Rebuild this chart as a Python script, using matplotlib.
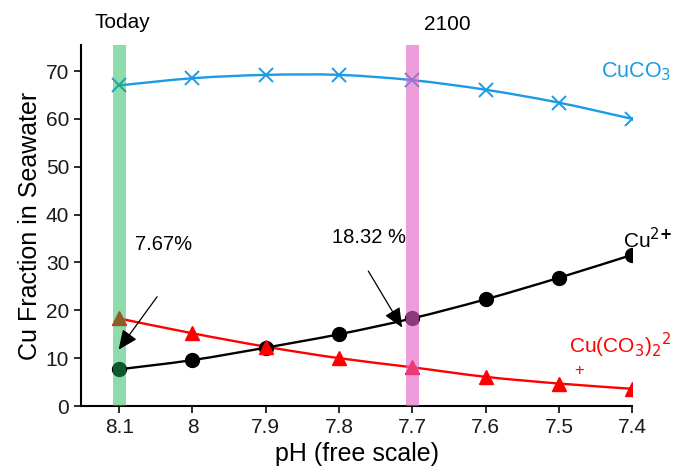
import matplotlib.pyplot as plt
import numpy as np
from matplotlib.path import Path
from matplotlib.patches import PathPatch

plt.rcParams['font.family'] = ['Liberation Sans', 'DejaVu Sans']

# data
ph = [8.1, 8.0, 7.9, 7.8, 7.7, 7.6, 7.5, 7.4]
cuco3 = [67.0, 68.5, 69.2, 69.2, 68.1, 66.1, 63.4, 60.0]
cu2 = [7.67, 9.6, 12.2, 15.0, 18.32, 22.3, 26.8, 31.6]
cuco3_2 = [18.3, 15.2, 12.4, 10.0, 8.1, 6.1, 4.7, 3.6]
x_ticks = [8.1, 8.0, 7.9, 7.8, 7.7, 7.6, 7.5, 7.4]
x_ticklabels = ['8.1', '8', '7.9', '7.8', '7.7', '7.6', '7.5', '7.4']

blue = '#1a9be3'
red = '#ff0000'


def smooth_path(xs, ys):
    # catmull-rom style bezier through the points (like a smoothed spreadsheet line)
    pts = np.column_stack([xs, ys])
    verts = [pts[0]]
    codes = [Path.MOVETO]
    n = len(pts)
    for i in range(n - 1):
        p0 = pts[i - 1] if i > 0 else pts[i]
        p1 = pts[i]
        p2 = pts[i + 1]
        p3 = pts[i + 2] if i + 2 < n else pts[i + 1]
        c1 = p1 + (p2 - p0) / 6
        c2 = p2 - (p3 - p1) / 6
        verts += [c1, c2, p2]
        codes += [Path.CURVE4] * 3
    return Path(verts, codes)


fig = plt.figure(figsize=(6.73, 4.76), dpi=100)
ax = fig.add_axes([0.1204, 0.147, 0.819, 0.758])

for ys, col in [(cuco3, blue), (cu2, 'black'), (cuco3_2, red)]:
    ax.add_patch(PathPatch(smooth_path(ph, ys), facecolor='none', edgecolor=col, lw=1.7, zorder=2))

ax.plot(ph, cuco3, ls='none', marker='x', ms=9.5, mew=1.4, color=blue, zorder=3)
ax.plot(ph, cu2, ls='none', marker='o', ms=10, color='black', zorder=3)
ax.plot(ph, cuco3_2, ls='none', marker='^', ms=10, color=red, zorder=3)

# highlight bands (drawn on top, semi-transparent)
ax.axvspan(8.1 - 0.009, 8.1 + 0.009, color='#1ab854', alpha=0.49, lw=0, zorder=4)
ax.axvspan(7.7 - 0.009, 7.7 + 0.009, color='#e260c4', alpha=0.61, lw=0, zorder=4)

ax.set_xlim(8.152, 7.4)
ax.set_ylim(0, 75.4)
ax.set_xticks(x_ticks)
ax.set_xticklabels(x_ticklabels)
ax.set_yticks(range(0, 71, 10))
ax.tick_params(direction='out', length=5, width=1.3, labelsize=15, colors='#1a1a1a')
for s in ['top', 'right']:
    ax.spines[s].set_visible(False)
for s in ['left', 'bottom']:
    ax.spines[s].set_linewidth(1.5)
ax.set_xlabel('pH (free scale)', fontsize=18, labelpad=4)
ax.set_ylabel('Cu Fraction in Seawater', fontsize=18, labelpad=3)

fig.text(122 / 673, 1 - 22 / 476, 'Today', fontsize=15, ha='center', va='center')
fig.text(447 / 673, 1 - 24 / 476, '2100', fontsize=15, ha='center', va='center')
fig.text(0.998, 1 - 72 / 476, 'CuCO$_3$', fontsize=15.5, color=blue, ha='right', va='center')
fig.text(0.998, 1 - 240 / 476, 'Cu$^{2\\mathbf{+}}$', fontsize=15, ha='right', va='center')
fig.text(0.998, 1 - 345 / 476, 'Cu(CO$_3$)$_2$$^2$', fontsize=15, color=red, ha='right', va='center')
fig.text(579 / 673, 1 - 371 / 476, '+', fontsize=12, color=red, ha='center', va='center')

arrow = dict(arrowstyle='-|>,head_length=0.5,head_width=0.22', color='black', lw=0.9, mutation_scale=24)
ax.annotate('', xy=(8.103, 11.3), xytext=(8.046, 23.3), arrowprops=arrow, zorder=5)
ax.text(8.04, 33.8, '7.67%', fontsize=14.5, ha='center', va='center')
ax.annotate('', xy=(7.712, 15.9), xytext=(7.762, 28.7), arrowprops=arrow, zorder=5)
ax.text(7.759, 35.2, '18.32 %', fontsize=14.5, ha='center', va='center')

fig.savefig('out.png', dpi=100)
